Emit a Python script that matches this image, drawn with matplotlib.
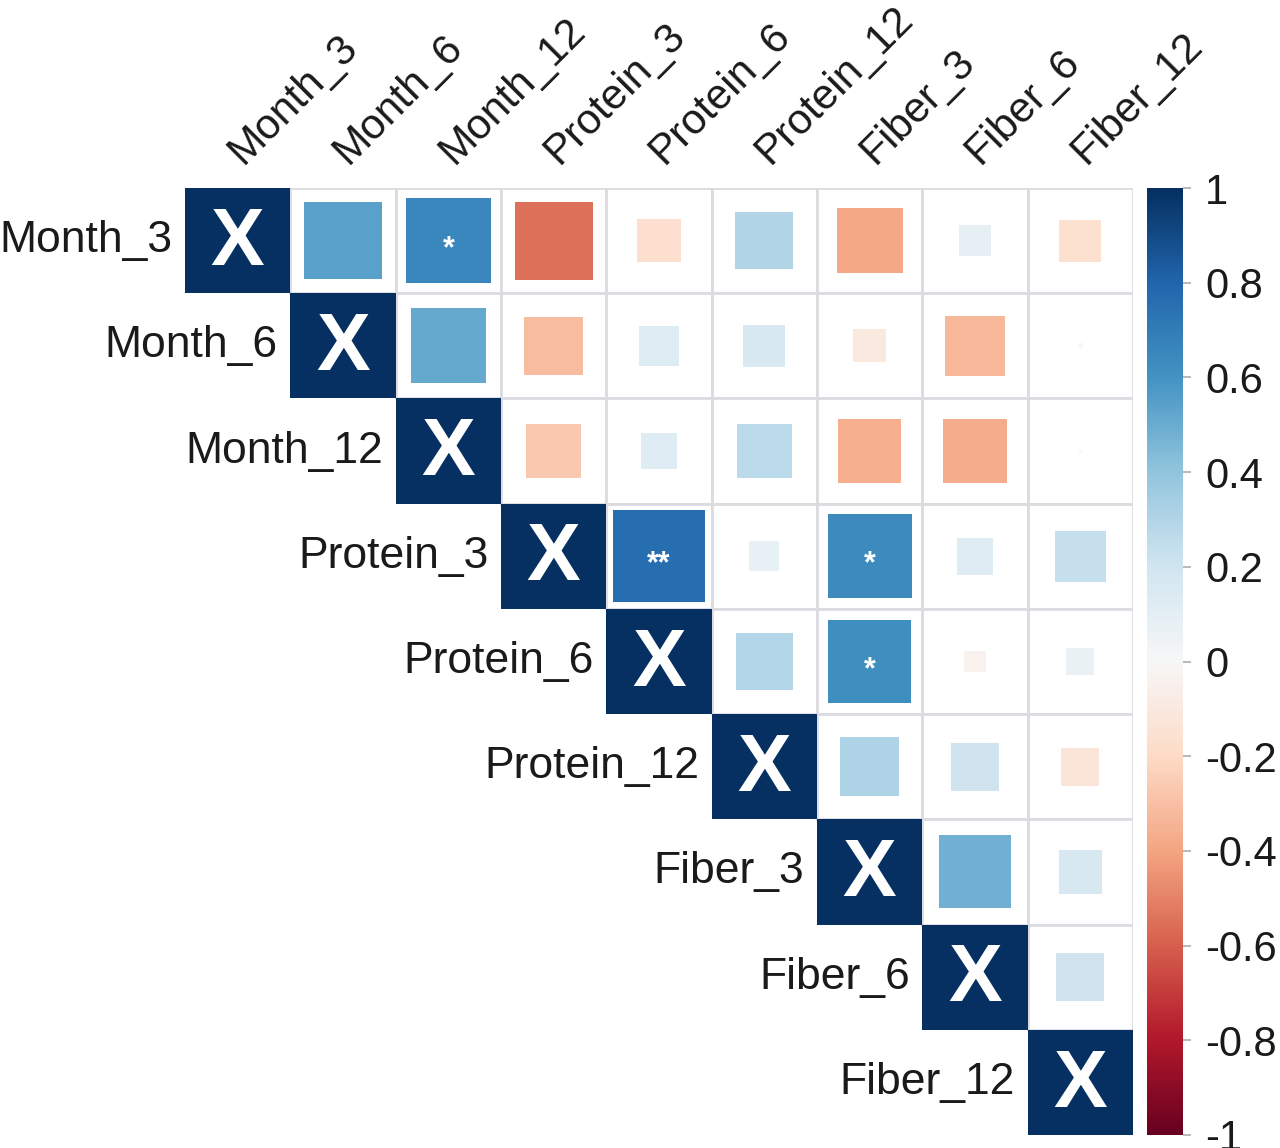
import numpy as np
import matplotlib
matplotlib.use('Agg')
import matplotlib.pyplot as plt
from matplotlib.patches import Rectangle
from matplotlib.colors import Normalize
from matplotlib.cm import ScalarMappable

plt.rcParams['font.family'] = ['Liberation Sans', 'DejaVu Sans']

# variable names
labels = ['Month_3', 'Month_6', 'Month_12', 'Protein_3', 'Protein_6',
          'Protein_12', 'Fiber_3', 'Fiber_6', 'Fiber_12']

# upper triangle of the correlation matrix, row by row (without diagonal)
upper = [
    [0.54, 0.65, -0.55, -0.17, 0.30, -0.39, 0.09, -0.16],
    [0.51, -0.31, 0.14, 0.16, -0.10, -0.33, 0.002],
    [-0.27, 0.12, 0.27, -0.36, -0.37, 0.001],
    [0.76, 0.08, 0.64, 0.12, 0.24],
    [0.29, 0.62, -0.04, 0.07],
    [0.31, 0.21, -0.13],
    [0.48, 0.17],
    [0.21],
]

# significance marks (row, col, stars)
stars = [(0, 2, '*'), (3, 4, '**'), (3, 6, '*'), (4, 6, '*')]

n = len(labels)
corr = np.eye(n)
for i, row in enumerate(upper):
    for k, v in enumerate(row):
        corr[i, i + 1 + k] = v
        corr[i + 1 + k, i] = v

cmap = plt.get_cmap('RdBu')
norm = Normalize(-1, 1)

fig = plt.figure(figsize=(12.8, 11.48), dpi=100)
ax = fig.add_axes([185 / 1280, 13 / 1148, 948 / 1280, 947 / 1148])
ax.set_xlim(0, n)
ax.set_ylim(n, 0)
ax.axis('off')

# grid for the upper triangle
for i in range(n):
    for j in range(i + 1, n):
        ax.add_patch(Rectangle((j, i), 1, 1, facecolor='white',
                               edgecolor='#dcdce0', lw=2, zorder=1))

# squares sized by sqrt(|r|)
for i in range(n):
    for j in range(i + 1, n):
        r = corr[i, j]
        s = np.sqrt(abs(r))
        ax.add_patch(Rectangle((j + 0.5 - s / 2, i + 0.5 - s / 2), s, s,
                               facecolor=cmap(norm(r)), edgecolor='none', zorder=2))

# diagonal
for i in range(n):
    ax.add_patch(Rectangle((i, i), 1, 1, facecolor=cmap(norm(1.0)),
                           edgecolor='none', zorder=3))
    ax.text(i + 0.5, i + 0.53, 'X', color='white', fontsize=58, fontweight='bold',
            ha='center', va='center', zorder=4)

for i, j, st in stars:
    ax.text(j + 0.5, i + 0.58, st, color='white', fontsize=22, fontweight='bold',
            ha='center', va='center', zorder=4)

# row labels
for i, lab in enumerate(labels):
    ax.text(i - 0.12, i + 0.5, lab, fontsize=32, ha='right', va='center',
            color='#1a1a1a', clip_on=False)

# column labels
for j, lab in enumerate(labels):
    ax.text(j + 0.55, -0.22, lab, fontsize=30.5, ha='left', va='baseline',
            rotation=45, rotation_mode='anchor', color='#1a1a1a', clip_on=False)

# colorbar
cax = fig.add_axes([1147 / 1280, 13 / 1148, 36 / 1280, 947 / 1148])
cb = fig.colorbar(ScalarMappable(norm=norm, cmap=cmap), cax=cax)
ticks = np.round(np.arange(-1, 1.01, 0.2), 1)
cb.set_ticks(ticks)
cb.set_ticklabels(['%g' % (t + 0.0) if abs(t) > 1e-9 else '0' for t in ticks])
cb.outline.set_visible(False)
cax.tick_params(labelsize=30, length=6, width=1.5, color='#bbbbbb', pad=10,
                labelcolor='#1a1a1a')

plt.savefig('out.png', dpi=100)
